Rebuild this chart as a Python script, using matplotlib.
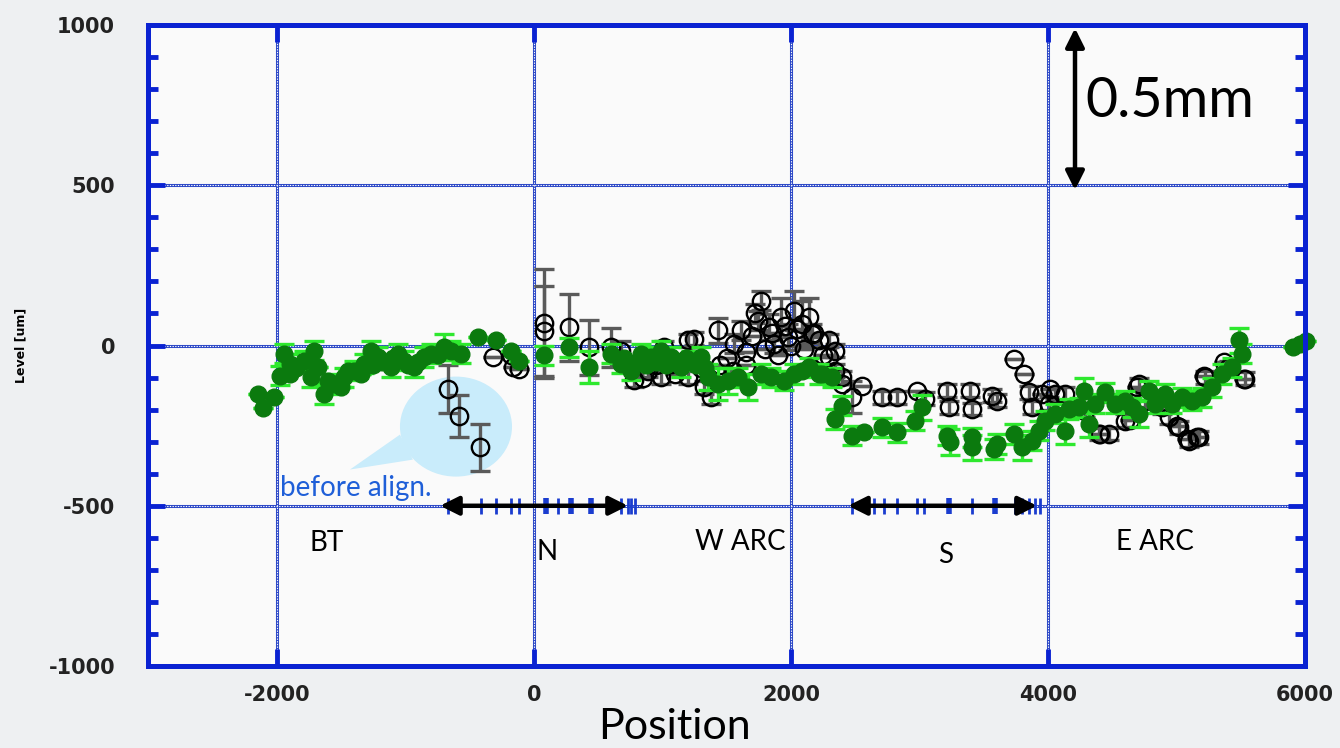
import matplotlib
matplotlib.use("Agg")
import matplotlib.pyplot as plt
from matplotlib.patches import Ellipse, Polygon
import numpy as np

# ---- measurements: before alignment (open circles) ----
before_x = [-671, -585, -421, -320, -179, -163, -117, 78, 78, 273, 429, 600, 678,
            780, 850, 889, 950, 990, 1014, 1068, 1100, 1150, 1201, 1201, 1248, 1300,
            1326, 1380, 1435, 1450, 1500, 1550, 1560, 1614, 1650, 1650, 1700, 1716,
            1747, 1770, 1800, 1825, 1850, 1871, 1900, 1926, 1950, 1980, 2000, 2027,
            2050, 2082, 2100, 2137, 2160, 2180, 2214, 2250, 2292, 2292, 2339, 2339,
            2394, 2394, 2472, 2550, 2706, 2823, 2979, 3041, 3213, 3228, 3392, 3407,
            3563, 3603, 3735, 3813, 3852, 3875, 3953, 4008, 4016, 4055, 4133, 4289,
            4398, 4405, 4476, 4600, 4638, 4693, 4710, 4757, 4872, 4889, 4943, 5002,
            5022, 5080, 5100, 5158, 5177, 5213, 5224, 5369, 5411, 5525, 5536]
before_y = [-135, -219, -318, -36, -31, -66, -72, 70, 45, 57, -6, -6, -16,
            -109, -100, -78, -60, -99, -6, -57, -90, -50, 16, -99, 21, -70,
            -130, -162, 47, -60, -40, -80, 6, 47, -20, -60, 30, 100,
            78, 140, -10, 57, 40, 6, -30, 88, 60, 26, 0, 109,
            50, 68, -10, 88, 37, 40, 16, -30, 16, -36, -16, -78,
            -99, -120, -162, -125, -162, -162, -141, -166, -141, -193, -141, -198,
            -156, -172, -41, -89, -146, -193, -151, -182, -137, -151, -151, -203,
            -276, -275, -276, -234, -231, -128, -120, -172, -190, -193, -224, -252,
            -255, -293, -297, -284, -286, -96, -99, -53, -68, -103, -104]
before_err = [75, 66, 73, 0, 0, 0, 0, 170, 140, 105, 85, 60, 30,
              20, 0, 20, 0, 20, 20, 20, 0, 0, 20, 20, 20, 0,
              20, 20, 40, 0, 0, 0, 30, 30, 0, 0, 0, 30,
              30, 30, 0, 40, 0, 30, 0, 60, 0, 40, 0, 60,
              0, 70, 0, 60, 30, 0, 20, 0, 20, 0, 20, 20,
              20, 0, 50, 0, 20, 20, 0, 20, 20, 20, 20, 20,
              20, 20, 0, 0, 20, 20, 0, 20, 0, 20, 20, 20,
              20, 0, 20, 20, 0, 0, 20, 20, 0, 20, 20, 0,
              20, 0, 20, 0, 20, 0, 20, 0, 20, 0, 20]

# ---- measurements: after alignment (filled circles) ----
after_x = [-2145, -2105, -2020, -1973, -1949, -1900, -1895, -1850, -1793, -1739,
           -1715, -1684, -1637, -1600, -1559, -1500, -1481, -1450, -1403, -1350,
           -1326, -1271, -1250, -1216, -1180, -1115, -1100, -1060, -1014, -980,
           -936, -900, -858, -803, -750, -702, -647, -569, -437, -296, -179, -117,
           78, 273, 429, 600, 678, 700, 756, 800, 834, 870, 912, 950, 990, 1030,
           1068, 1100, 1146, 1180, 1224, 1260, 1302, 1330, 1357, 1435, 1513, 1591,
           1669, 1770, 1848, 1949, 2027, 2082, 2137, 2214, 2238, 2316, 2339, 2394,
           2472, 2565, 2706, 2823, 2963, 3018, 3213, 3236, 3407, 3407, 3579, 3603,
           3735, 3797, 3875, 3930, 3977, 4055, 4133, 4164, 4242, 4281, 4320, 4366,
           4444, 4522, 4600, 4655, 4710, 4788, 4834, 4912, 4967, 5045, 5123, 5201,
           5279, 5357, 5435, 5489, 5513, 5910, 5960, 6010]
after_y = [-150, -195, -160, -94, -26, -90, -57, -70, -47, -99,
           -16, -68, -151, -110, -120, -130, -99, -80, -78, -90,
           -57, -16, -60, -36, -50, -68, -40, -26, -47, -60,
           -68, -50, -36, -26, -30, -5, -16, -26, 26, 16, -16, -47,
           -31, -6, -68, -26, -57, -40, -78, -50, -26, -60, -36, -50, -16, -60,
           -36, -50, -68, -40, -47, -60, -36, -70, -99, -120, -110, -99,
           -130, -89, -99, -110, -89, -78, -68, -89, -89, -99, -229, -188,
           -281, -271, -255, -271, -234, -193, -281, -302, -286, -318, -323, -307,
           -276, -318, -297, -266, -234, -213, -266, -198, -193, -141, -245, -182,
           -146, -182, -172, -193, -213, -141, -182, -151, -182, -162, -172, -162,
           -130, -89, -68, 16, -26, -5, 5, 15]
after_err = [0, 0, 0, 30, 30, 0, 30, 0, 30, 30,
             30, 0, 30, 0, 30, 0, 30, 0, 30, 0,
             30, 30, 0, 30, 0, 30, 0, 30, 30, 0,
             30, 0, 30, 30, 0, 40, 30, 30, 0, 0, 0, 0,
             30, 30, 50, 30, 30, 0, 30, 0, 30, 0, 30, 0, 30, 0,
             30, 0, 30, 0, 30, 0, 30, 0, 40, 50, 40, 30,
             40, 30, 30, 30, 30, 0, 30, 30, 0, 30, 30, 30,
             30, 0, 30, 30, 30, 40, 30, 40, 30, 40, 30, 30,
             30, 40, 30, 30, 30, 30, 40, 30, 30, 40, 40, 30,
             30, 30, 30, 30, 40, 30, 30, 30, 30, 30, 30, 30,
             30, 30, 30, 40, 30, 0, 0, 0]

# ---- element positions along the ring (blue ticks at -500) ----
n_elements = [-671, -413, -296, -179, -117, 94, 187, 289, 444, 678, 733, 756, 787]
n_thick = [94, 289, 444]
s_elements = [2472, 2643, 2721, 2823, 2979, 3033, 3228, 3407, 3587, 3743, 3797, 3852, 3899, 3938]
s_thick = [3228, 3587]

sections = ["BT", "N", "W ARC", "S", "E ARC"]
section_x = [-1611, 101, 1603, 3206, 4833]
section_y = [-615, -643, -612, -655, -612]

x_ticks = [-2000, 0, 2000, 4000, 6000]
y_ticks = [-1000, -500, 0, 500, 1000]

BLUE = "#0a22d2"
GRID_BLUE = "#2a46c6"

fig = plt.figure(figsize=(13.4, 7.48), dpi=100, facecolor="#eef0f2")
ax = fig.add_axes([0.1108, 0.1096, 0.8631, 0.857])
ax.set_facecolor("#fafafa")
ax.set_xlim(-3000, 6000)
ax.set_ylim(-1000, 1000)

# dotted blue grid
for gx in [-2000, 0, 2000, 4000]:
    ax.axvline(gx, color=GRID_BLUE, lw=2.2, zorder=1)
    ax.axvline(gx, color="white", lw=0.8, ls=(0, (1.2, 1.2)), zorder=1.1)
for gy in [-500, 0, 500]:
    ax.axhline(gy, color=GRID_BLUE, lw=2.2, zorder=1)
    ax.axhline(gy, color="white", lw=0.8, ls=(0, (1.2, 1.2)), zorder=1.1)

# callout bubble
ax.add_patch(Ellipse((-607, -253), 872, 312, facecolor="#c9ecfb", edgecolor="none", zorder=1.5))
ax.add_patch(Polygon([(-1043, -278), (-1432, -387), (-942, -356)], closed=True,
                     facecolor="#c9ecfb", edgecolor="none", zorder=1.5))
ax.text(-1973, -444, "before align.", color="#1f5fd8", fontsize=20, family="Lato",
        ha="left", va="center", zorder=5)

# element markers
for ex in n_elements + s_elements:
    w = 4.0 if ex in n_thick + s_thick else 2.0
    ax.plot([ex, ex], [-525, -475], color="#1a3ccf", lw=w, zorder=2, solid_capstyle="butt")

# data
bx = np.array(before_x); by = np.array(before_y); be = np.array(before_err)
ax.errorbar(bx, by, yerr=be, fmt="none", ecolor="#5a5a5a", elinewidth=2.4,
            capsize=7, capthick=2.4, zorder=3)
ax.plot(bx, by, "o", mfc="none", mec="black", mew=1.7, ms=12.5, zorder=3.2)

gx_ = np.array(after_x); gy_ = np.array(after_y); ge = np.array(after_err)
ax.errorbar(gx_, gy_, yerr=ge, fmt="none", ecolor="#2ee82e", elinewidth=2.4,
            capsize=7, capthick=2.4, zorder=3.5, clip_on=False)
ax.plot(gx_, gy_, "o", color="#0b7a0e", mec="#0b7a0e", ms=12, zorder=3.6, clip_on=False)

# double arrows
arrow_kw = dict(arrowstyle="<|-|>", color="black", lw=3.2, mutation_scale=28,
                shrinkA=0, shrinkB=0)
ax.annotate("", xy=(-731, -500), xytext=(731, -500), arrowprops=arrow_kw, zorder=4)
ax.annotate("", xy=(2444, -500), xytext=(3914, -500), arrowprops=arrow_kw, zorder=4)
ax.annotate("", xy=(4210, 990), xytext=(4210, 485), arrowprops=arrow_kw, zorder=4)
ax.text(4290, 760, "0.5mm", fontsize=40, family="Lato", ha="left", va="center", zorder=5)

for name, sx, sy in zip(sections, section_x, section_y):
    ax.text(sx, sy, name, fontsize=20, family="Lato", ha="center", va="center", zorder=5)

# frame and ticks
for sp in ax.spines.values():
    sp.set_color(BLUE)
    sp.set_linewidth(3.6)
    sp.set_zorder(6)

ax.set_xticks(x_ticks)
ax.set_xticklabels([str(v) for v in x_ticks])
ax.set_yticks(y_ticks)
ax.set_yticklabels([str(v) for v in y_ticks])
ax.set_yticks(np.arange(-900, 1000, 100), minor=True)
ax.tick_params(axis="both", which="major", direction="in", length=12, width=3.5,
               color=BLUE, top=True, right=True, labelsize=15)
ax.tick_params(axis="y", which="minor", direction="in", length=7, width=3.5,
               color=BLUE, right=True)
ax.tick_params(axis="y", which="major", pad=24)
ax.tick_params(axis="x", which="major", pad=14)
for lab in ax.get_xticklabels() + ax.get_yticklabels():
    lab.set_fontweight("bold")
    lab.set_color("#222222")

ax.set_xlabel("Position", fontsize=31, family="Lato")
ax.xaxis.set_label_coords(0.455, -0.065)
ax.set_ylabel("Level [um]", fontsize=9, fontweight="bold")
ax.yaxis.set_label_coords(-0.105, 0.5)

fig.savefig("out.png", dpi=100, facecolor=fig.get_facecolor())
